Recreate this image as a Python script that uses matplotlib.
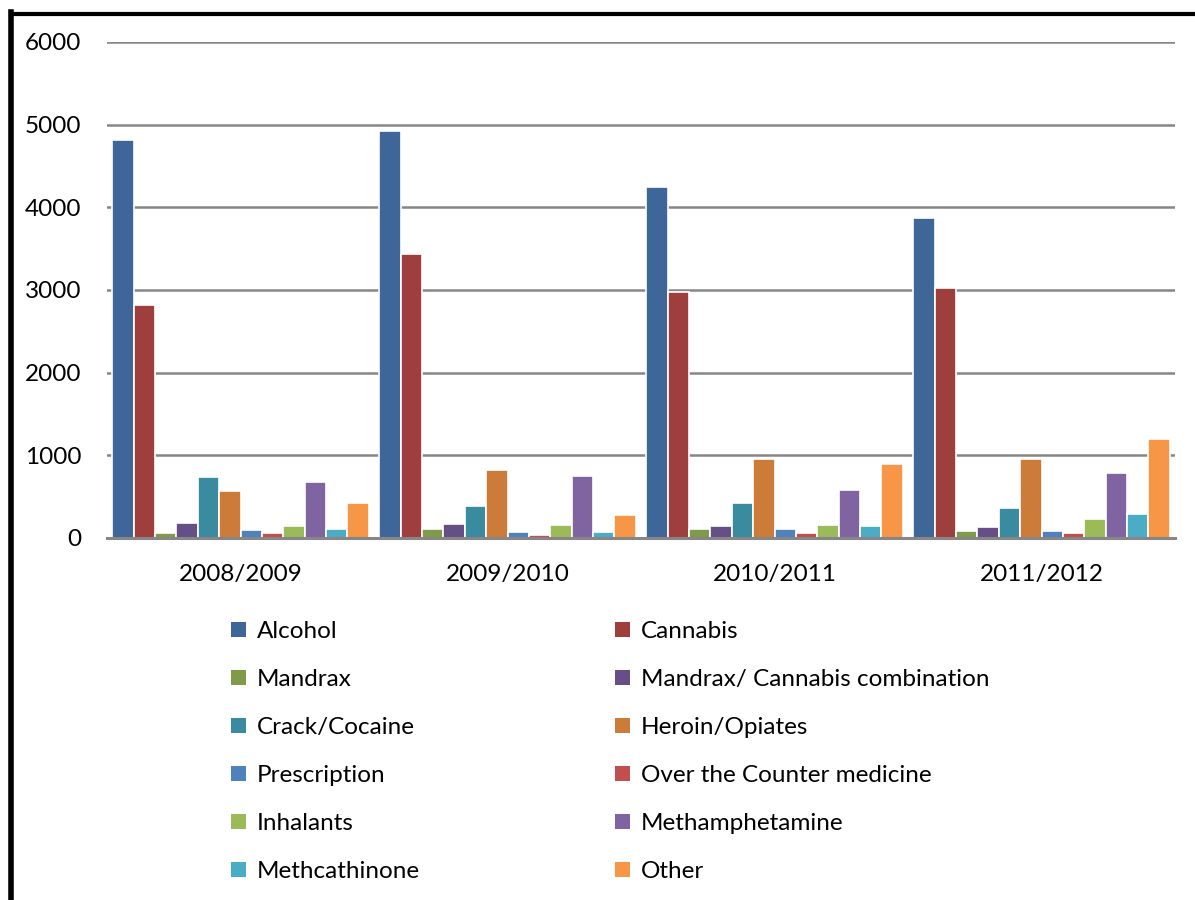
import matplotlib.pyplot as plt
import numpy as np
from matplotlib.lines import Line2D
from matplotlib.patches import Patch

plt.rcParams['font.family'] = ['Lato', 'DejaVu Sans']

years = ['2008/2009', '2009/2010', '2010/2011', '2011/2012']
substances = ['Alcohol', 'Cannabis', 'Mandrax', 'Mandrax/ Cannabis combination',
              'Crack/Cocaine', 'Heroin/Opiates', 'Prescription',
              'Over the Counter medicine', 'Inhalants', 'Methamphetamine',
              'Methcathinone', 'Other']

alcohol = [4810, 4920, 4240, 3870]
cannabis = [2820, 3430, 2970, 3020]
mandrax = [60, 113, 113, 85]
mandrax_cannabis = [180, 173, 149, 137]
crack = [738, 391, 424, 367]
heroin = [564, 818, 960, 960]
prescription = [92, 76, 109, 85]
otc = [60, 40, 56, 60]
inhalants = [140, 161, 153, 234]
meth = [678, 746, 585, 782]
methcathinone = [109, 68, 141, 290]
other = [424, 282, 900, 1200]

series = [alcohol, cannabis, mandrax, mandrax_cannabis, crack, heroin,
          prescription, otc, inhalants, meth, methcathinone, other]

colors = ['#3F6699', '#9E3F3D', '#7F9A48', '#664F86', '#3A8BA0', '#CC7B38',
          '#4F81BD', '#C0504D', '#9BBB59', '#8064A2', '#4BACC6', '#F79646']

fs = 17.5

fig = plt.figure(figsize=(11.95, 9), dpi=100)
ax = fig.add_axes([107 / 1195, 1 - 538 / 900, (1175 - 107) / 1195, (538 - 42) / 900])

x = np.arange(len(years))
slot = 0.08
n = len(series)
for i, (vals, c) in enumerate(zip(series, colors)):
    ax.bar(x - slot * (n - 1) / 2 + i * slot, vals, width=slot,
           color=c, edgecolor='white', linewidth=1.2, zorder=3)

ax.set_xlim(-0.5, 3.5)
ax.set_ylim(0, 6000)
ax.set_yticks(range(0, 6001, 1000))
ax.set_xticks(x)
ax.set_xticklabels(years)
ax.tick_params(axis='both', length=0, labelsize=fs)
ax.tick_params(axis='y', pad=18.5)
ax.tick_params(axis='x', pad=19)

ax.grid(axis='y', color='#868686', linewidth=1.8, zorder=0)
for s in ['top', 'right', 'left']:
    ax.spines[s].set_visible(False)
ax.spines['bottom'].set_color('#868686')
ax.spines['bottom'].set_linewidth(2.2)
ax.spines['bottom'].set_zorder(4)

# legend, two columns (row-wise order like the original)
handles = [Patch(facecolor=c, edgecolor='none') for c in colors]
col1 = list(range(0, n, 2))
col2 = list(range(1, n, 2))
for cols, xpos in [(col1, 231 / 1195), (col2, 615 / 1195)]:
    fig.legend([handles[k] for k in cols], [substances[k] for k in cols],
               loc='upper left', bbox_to_anchor=(xpos, 1 - 621 / 900),
               frameon=False, fontsize=fs, handlelength=0.6, handleheight=0.6,
               handletextpad=0.45, labelspacing=1.11, borderpad=0, borderaxespad=0)

# frame lines around the chart area
fig.add_artist(Line2D([10.5 / 1195, 10.5 / 1195], [0, 1 - 12 / 900],
                      color='black', linewidth=4, solid_capstyle='projecting'))
fig.add_artist(Line2D([10.5 / 1195, 1], [1 - 13.5 / 900, 1 - 13.5 / 900],
                      color='black', linewidth=3, solid_capstyle='projecting'))

fig.savefig('out.png', dpi=100)
